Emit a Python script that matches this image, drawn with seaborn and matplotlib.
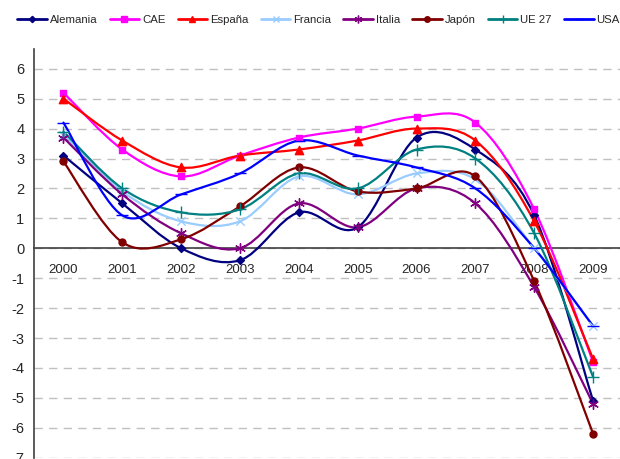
import numpy as np
import matplotlib
matplotlib.use("Agg")
import matplotlib.pyplot as plt
from matplotlib.path import Path
from matplotlib.patches import PathPatch
from matplotlib.lines import Line2D
import seaborn as sns


# DATA (crecimiento del PIB, %)

years = ["2000", "2001", "2002", "2003", "2004", "2005", "2006", "2007", "2008", "2009"]

alemania = [3.1, 1.5, 0.0, -0.4, 1.2, 0.7, 3.7, 3.3, 1.1, -5.1]
cae = [5.2, 3.3, 2.4, 3.1, 3.7, 4.0, 4.4, 4.2, 1.3, -3.8]
espana = [5.0, 3.6, 2.7, 3.1, 3.3, 3.6, 4.0, 3.6, 0.9, -3.7]
francia = [3.8, 1.9, 0.9, 0.9, 2.4, 1.8, 2.5, 2.3, 0.0, -2.6]
italia = [3.7, 1.8, 0.5, 0.0, 1.5, 0.7, 2.0, 1.5, -1.3, -5.2]
japon = [2.9, 0.2, 0.3, 1.4, 2.7, 1.9, 2.0, 2.4, -1.1, -6.2]
ue27 = [3.9, 2.0, 1.2, 1.3, 2.5, 2.0, 3.3, 3.0, 0.5, -4.3]
usa = [4.2, 1.1, 1.8, 2.5, 3.6, 3.1, 2.7, 2.0, 0.0, -2.6]

names = ["Alemania", "CAE", "España", "Francia", "Italia", "Japón", "UE 27", "USA"]
series = [alemania, cae, espana, francia, italia, japon, ue27, usa]
colors = ["#000080", "#FF00FF", "#FF0000", "#99CCFF", "#800080", "#800000", "#008080", "#0000FF"]
markers = ["D", "s", "^", "x", (6, 2, 0), "o", "+", "_"]
msizes = [4, 5, 6, 6, 7, 5, 8, 8]


# SMOOTH LINE (bezier como en Excel)

def smooth_path(xs, ys):
    pts = np.column_stack([xs, ys]).astype(float)
    n = len(pts)
    verts = [pts[0]]
    codes = [Path.MOVETO]
    for i in range(n - 1):
        p0 = pts[i - 1] if i > 0 else pts[i]
        p1 = pts[i]
        p2 = pts[i + 1]
        p3 = pts[i + 2] if i + 2 < n else pts[i + 1]
        c1 = p1 + (p2 - p0) / 6
        c2 = p2 - (p3 - p1) / 6
        verts += [c1, c2, p2]
        codes += [Path.CURVE4] * 3
    return Path(verts, codes)


# PLOT

sns.set_style("white")
plt.rcParams["font.family"] = ["Liberation Sans", "DejaVu Sans"]
plt.rcParams["axes.unicode_minus"] = False

fig = plt.figure(figsize=(6.2, 4.59), dpi=100)
ax = fig.add_axes([34 / 620, 1.3 / 459, 588.5 / 620, 408.4 / 459])

xpos = np.arange(len(years))

for name, vals, col, mk, ms in zip(names, series, colors, markers, msizes):
    patch = PathPatch(smooth_path(xpos, vals), facecolor="none", edgecolor=col,
                      lw=1.6, zorder=3, capstyle="round", joinstyle="round")
    ax.add_patch(patch)
    sns.scatterplot(x=xpos, y=vals, marker=mk, color=col, edgecolor=col,
                    s=ms ** 2, linewidth=1.0, ax=ax, zorder=4, legend=False)

ax.set_xlim(-0.5, 9.5)
ax.set_ylim(-7, 6.65)

# ejes
ax.spines["top"].set_visible(False)
ax.spines["right"].set_visible(False)
ax.spines["bottom"].set_position(("data", 0))
ax.spines["bottom"].set_color("#404040")
ax.spines["left"].set_color("#404040")
ax.spines["bottom"].set_linewidth(1.2)
ax.spines["left"].set_linewidth(1.2)

ax.set_xticks(xpos)
ax.set_xticklabels(years, fontsize=9.5)
ax.set_xticks(np.arange(-0.5, 10, 1), minor=True)
ax.tick_params(axis="x", which="major", length=0, pad=11)
ax.tick_params(axis="x", which="minor", length=4, direction="out", color="#404040")

ax.set_yticks(range(-7, 7))
ax.tick_params(axis="y", length=3, direction="out", color="#404040", labelsize=10.5, pad=4)
ax.set_xlabel("")
ax.set_ylabel("")

ax.yaxis.grid(True, color="#c0c0c0", lw=1, linestyle=(0, (6, 4.5)))
ax.set_axisbelow(True)

# LEGEND

handles = [Line2D([], [], color=c, marker=m, lw=2, markersize=ms * 0.8, markeredgewidth=1)
           for c, m, ms in zip(colors, markers, msizes)]
fig.legend(handles, names, loc="center", bbox_to_anchor=(0.514, 0.956), ncol=8,
           frameon=False, fontsize=8.2, handlelength=2.6, handletextpad=0.27,
           columnspacing=1.05, borderpad=0.2)

fig.savefig("out.png", dpi=100)
